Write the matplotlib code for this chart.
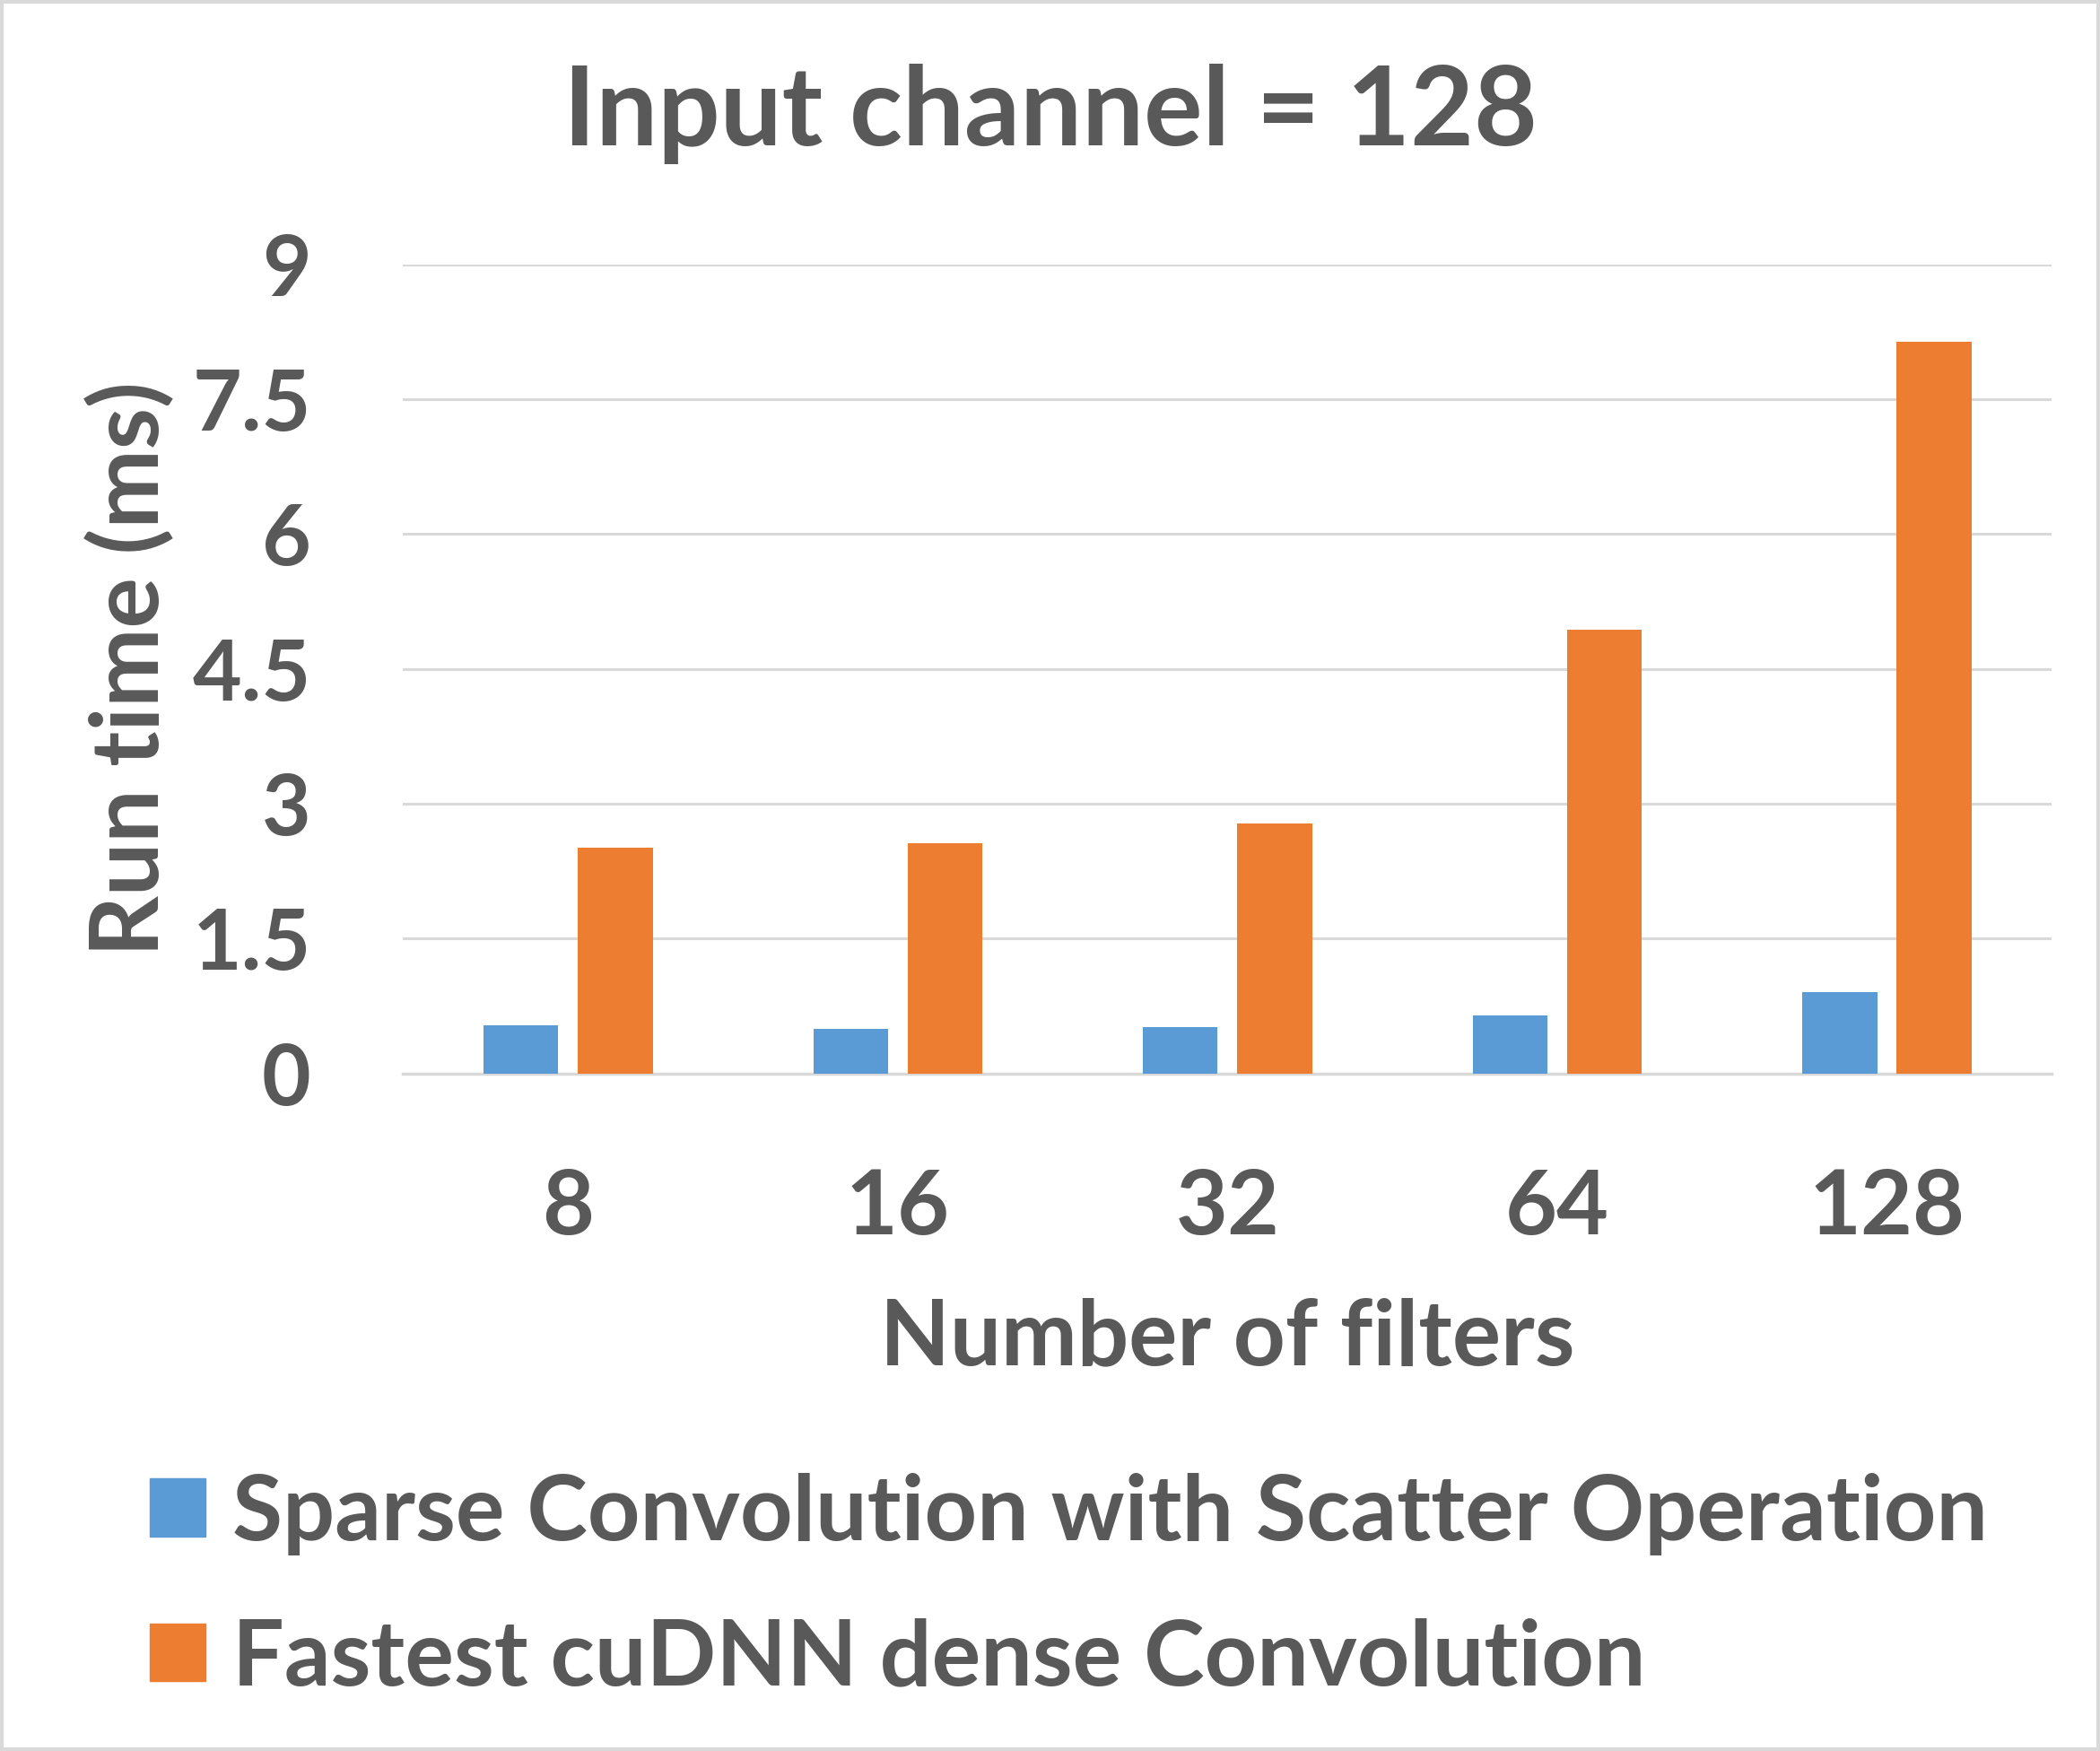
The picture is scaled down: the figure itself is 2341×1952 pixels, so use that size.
import numpy as np
import matplotlib
matplotlib.use("Agg")
import matplotlib.pyplot as plt
from matplotlib.patches import Patch

# data
filters = ["8", "16", "32", "64", "128"]
sparse_ms = [0.53, 0.49, 0.51, 0.645, 0.90]
cudnn_ms = [2.51, 2.56, 2.78, 4.94, 8.14]
yticks = [0, 1.5, 3, 4.5, 6, 7.5, 9]
ytick_labels = ["0", "1.5", "3", "4.5", "6", "7.5", "9"]

blue = "#5B9BD5"
orange = "#ED7D31"
text_c = "#595959"

plt.rcParams["font.family"] = ["Lato", "DejaVu Sans"]
plt.rcParams["font.weight"] = "bold"

fig = plt.figure(figsize=(23.41, 19.52), dpi=100)
ax = fig.add_axes([0.192, 0.387, 0.785, 0.462])

x = np.arange(len(filters))
w = 0.227
ax.bar(x - 0.143, sparse_ms, w, color=blue, zorder=3)
ax.bar(x + 0.143, cudnn_ms, w, color=orange, zorder=3)

ax.set_xlim(-0.5, len(filters) - 0.5)
ax.set_ylim(0, 9)
ax.set_yticks(yticks)
ax.set_yticklabels(ytick_labels)
ax.set_xticks(x)
ax.set_xticklabels(filters)
ax.tick_params(axis="y", length=0, pad=74, labelsize=68, labelcolor=text_c)
ax.tick_params(axis="x", length=0, pad=76, labelsize=72, labelcolor=text_c)
ax.grid(axis="y", color="#D9D9D9", linewidth=2.2, zorder=0)
for s in ["top", "right", "left"]:
    ax.spines[s].set_visible(False)
ax.spines["bottom"].set_color("#D9D9D9")
ax.spines["bottom"].set_linewidth(2.5)

ax.set_xlabel("Number of filters", fontsize=73, color=text_c, fontweight="bold", labelpad=38)
ax.set_ylabel("Run time (ms)", fontsize=76, color=text_c, fontweight="bold", labelpad=14)

fig.text(0.5, 0.935, "Input channel = 128", fontsize=88, color=text_c,
         fontweight="bold", ha="center", va="center")

handles = [Patch(color=blue, label="Sparse Convolution with Scatter Operation"),
           Patch(color=orange, label="Fastest cuDNN dense Convolution")]
fig.legend(handles=handles, loc="upper left", bbox_to_anchor=(0.0715, 0.159),
           frameon=False, fontsize=73.5, labelcolor=text_c, handlelength=0.6,
           handleheight=0.6, handletextpad=0.3, labelspacing=0.68,
           borderaxespad=0, borderpad=0)

# light frame round the whole picture
fig.patches.append(plt.Rectangle((0.001, 0.001), 0.998, 0.998, transform=fig.transFigure,
                                 fill=False, edgecolor="#D9D9D9", linewidth=3))

fig.savefig("out.png", dpi=100, facecolor="white")
